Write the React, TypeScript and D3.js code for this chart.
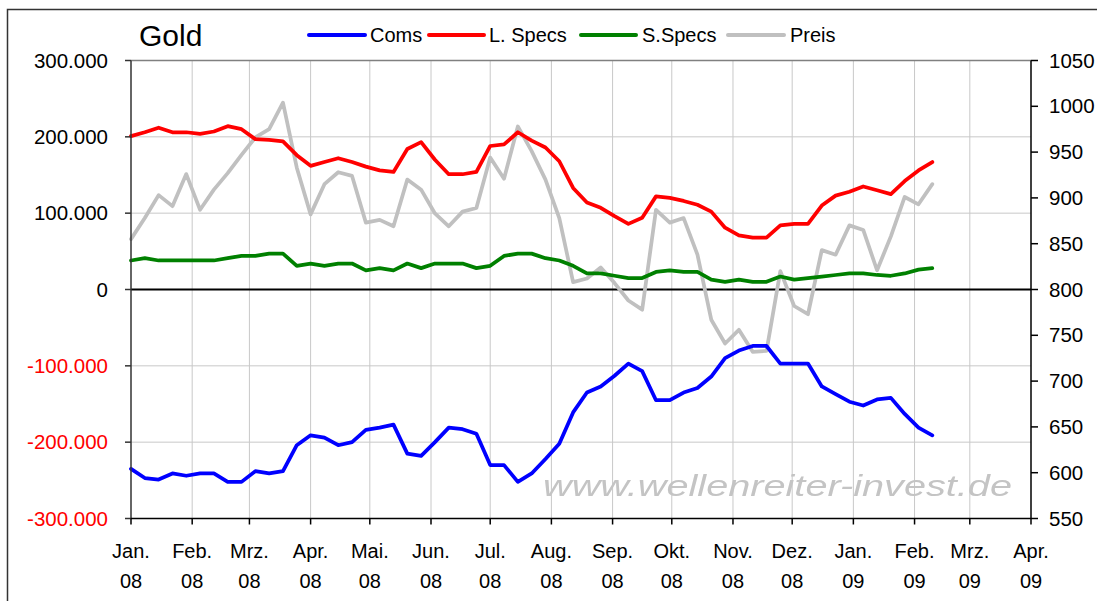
import React from "react";
import * as d3 from "d3";

const dates: string[] = [
  "2008-01-01","2008-01-08","2008-01-15","2008-01-22","2008-01-29",
  "2008-02-05","2008-02-12","2008-02-19","2008-02-26",
  "2008-03-04","2008-03-11","2008-03-18","2008-03-25",
  "2008-04-01","2008-04-08","2008-04-15","2008-04-22","2008-04-29",
  "2008-05-06","2008-05-13","2008-05-20","2008-05-27",
  "2008-06-03","2008-06-10","2008-06-17","2008-06-24",
  "2008-07-01","2008-07-08","2008-07-15","2008-07-22","2008-07-29",
  "2008-08-05","2008-08-12","2008-08-19","2008-08-26",
  "2008-09-02","2008-09-09","2008-09-16","2008-09-23","2008-09-30",
  "2008-10-07","2008-10-14","2008-10-21","2008-10-28",
  "2008-11-04","2008-11-11","2008-11-18","2008-11-25",
  "2008-12-02","2008-12-09","2008-12-16","2008-12-23","2008-12-30",
  "2009-01-06","2009-01-13","2009-01-20","2009-01-27",
  "2009-02-03","2009-02-10",
];

// Thousands of contracts
const coms: number[] = [
  -235,-247,-249,-241,-244,-241,-241,-252,-252,-238,-241,-238,-204,-191,-194,-204,-200,-184,-181,-177,
  -215,-218,-200,-181,-183,-189,-230,-230,-252,-241,-222,-202,-161,-135,-127,-113,-97,-107,-145,-145,
  -135,-129,-114,-90,-80,-74,-74,-97,-97,-97,-127,-137,-147,-152,-144,-142,-163,-181,-191,
];
const lSpecs: number[] = [
  201,206,212,206,206,204,207,214,210,197,196,194,176,162,167,172,167,161,156,154,
  184,193,170,151,151,154,188,190,206,195,186,168,133,114,107,96,86,94,122,120,
  116,111,102,81,71,68,68,84,86,86,110,123,128,135,130,125,142,156,167,
];
const sSpecs: number[] = [
  38,41,38,38,38,38,38,41,44,44,47,47,31,34,31,34,34,25,28,25,
  34,28,34,34,34,28,31,44,47,47,41,38,31,21,21,18,15,15,23,25,
  23,23,13,10,13,10,10,17,13,15,17,19,21,21,19,18,21,26,28,
];
const preis: number[] = [
  855,878,903,891,926,887,909,927,947,966,975,1004,933,882,915,928,924,873,876,869,
  920,909,883,869,885,889,944,921,978,951,920,878,808,812,824,807,788,778,887,873,
  878,838,767,741,756,732,733,820,782,773,843,838,870,865,821,858,901,893,915,
];

const monthLabels: string[] = [
  "Jan.","Feb.","Mrz.","Apr.","Mai.","Jun.","Jul.","Aug.","Sep.","Okt.","Nov.","Dez.",
  "Jan.","Feb.","Mrz.","Apr.",
];
const yearLabels: string[] = ["08","08","08","08","08","08","08","08","08","08","08","08","09","09","09","09"];
const leftTicks: number[] = [300000, 200000, 100000, 0, -100000, -200000, -300000];
const rightTicks: number[] = [1050, 1000, 950, 900, 850, 800, 750, 700, 650, 600, 550];

const seriesNames = ["Coms", "L. Specs", "S.Specs", "Preis"];
const seriesColors = ["#0000ff", "#ff0000", "#008000", "#c0c0c0"];

const FONT = "'Liberation Sans', Arial, sans-serif";

export default function App() {
  const parse = d3.timeParse("%Y-%m-%d");
  const dts = dates.map((s) => parse(s) as Date);
  const x0 = new Date(2008, 0, 1);
  const x1 = new Date(2009, 3, 1);
  const L = 131, R = 1031, T = 60.5, B = 518.5;
  const x = d3.scaleTime().domain([x0, x1]).range([L, R]);
  const yL = d3.scaleLinear().domain([-300000, 300000]).range([B, T]);
  const yR = d3.scaleLinear().domain([550, 1050]).range([B, T]);
  const months = d3.timeMonth.range(x0, d3.timeDay.offset(x1, 1));

  const loc = d3.formatLocale({ decimal: ",", thousands: ".", grouping: [3], currency: ["", "€"], minus: "-" });
  const fmt = loc.format(",d");

  const lineL = d3.line<number>().x((_, i) => x(dts[i])).y((v) => yL(v * 1000));
  const lineR = d3.line<number>().x((_, i) => x(dts[i])).y((v) => yR(v));

  const legendItems = [
    { x1: 309, x2: 365, tx: 370 },
    { x1: 429, x2: 484, tx: 489 },
    { x1: 581, x2: 636, tx: 642 },
    { x1: 728, x2: 784, tx: 790 },
  ];

  return (
    <svg width={1097} height={601} style={{ position: "absolute", left: 0, top: 0, background: "#fff" }} fontFamily={FONT}>
      <defs>
        <filter id="blur" x="-5%" y="-20%" width="110%" height="140%">
          <feGaussianBlur stdDeviation="0.7" />
        </filter>
      </defs>
      <rect x={0} y={0} width={1097} height={601} fill="#fff" />
      {/* outer border */}
      <rect x={7.5} y={9.5} width={1200} height={700} fill="none" stroke="#333" strokeWidth={1.5} />

      {/* gridlines */}
      {leftTicks.filter((t) => t !== 0 && t !== 300000 && t !== -300000).map((t) => (
        <line key={"h" + t} x1={L} x2={R} y1={yL(t)} y2={yL(t)} stroke="#c8c8c8" strokeWidth={1} />
      ))}
      {months.slice(1, -1).map((m, i) => (
        <line key={"v" + i} x1={x(m)} x2={x(m)} y1={T} y2={B} stroke="#c8c8c8" strokeWidth={1} />
      ))}
      {/* plot border top */}
      <line x1={L} x2={R} y1={T} y2={T} stroke="#808080" strokeWidth={1.5} />

      {/* watermark */}
      <text x={543} y={496} fontSize={30} fontStyle="italic" fill="#c4c4c4" textLength={469}
        lengthAdjust="spacingAndGlyphs" filter="url(#blur)">www.wellenreiter-invest.de</text>

      {/* zero line */}
      <line x1={L} x2={R} y1={yL(0)} y2={yL(0)} stroke="#000" strokeWidth={2} />

      {/* series */}
      <path d={lineR(preis) || ""} fill="none" stroke={seriesColors[3]} strokeWidth={3.75} strokeLinejoin="round" strokeLinecap="round" />
      <path d={lineL(sSpecs) || ""} fill="none" stroke={seriesColors[2]} strokeWidth={3.75} strokeLinejoin="round" strokeLinecap="round" />
      <path d={lineL(lSpecs) || ""} fill="none" stroke={seriesColors[1]} strokeWidth={3.75} strokeLinejoin="round" strokeLinecap="round" />
      <path d={lineL(coms) || ""} fill="none" stroke={seriesColors[0]} strokeWidth={3.75} strokeLinejoin="round" strokeLinecap="round" />

      {/* left axis */}
      <line x1={L} x2={L} y1={T} y2={B} stroke="#333" strokeWidth={1.5} />
      {leftTicks.map((t) => (
        <g key={"lt" + t}>
          <line x1={L - 6} x2={L} y1={yL(t)} y2={yL(t)} stroke="#333" strokeWidth={1.5} />
          <text x={108} y={yL(t)} dy="0.35em" textAnchor="end" fontSize={20.5} fill={t < 0 ? "#ff0000" : "#000"}>{fmt(t)}</text>
        </g>
      ))}
      {/* right axis */}
      <line x1={R} x2={R} y1={T} y2={B} stroke="#000" strokeWidth={1.5} />
      {rightTicks.map((t) => (
        <g key={"rt" + t}>
          <line x1={R} x2={R + 7} y1={yR(t)} y2={yR(t)} stroke="#000" strokeWidth={1.5} />
          <text x={1049} y={yR(t)} dy="0.35em" textAnchor="start" fontSize={20.5} fill="#000">{t}</text>
        </g>
      ))}
      {/* bottom axis */}
      <line x1={L} x2={R} y1={B} y2={B} stroke="#000" strokeWidth={1.5} />
      {months.map((m, i) => (
        <g key={"bt" + i}>
          <line x1={x(m)} x2={x(m)} y1={B} y2={B + 6} stroke="#000" strokeWidth={1.5} />
          <text x={x(m)} y={558} textAnchor="middle" fontSize={20}>{monthLabels[i]}</text>
          <text x={x(m)} y={588} textAnchor="middle" fontSize={20}>{yearLabels[i]}</text>
        </g>
      ))}

      {/* title */}
      <text x={139} y={46} fontSize={30}>Gold</text>

      {/* legend */}
      {legendItems.map((it, i) => (
        <g key={"lg" + i}>
          <line x1={it.x1} x2={it.x2} y1={35} y2={35} stroke={seriesColors[i]} strokeWidth={4} strokeLinecap="round" />
          <text x={it.tx} y={41.5} fontSize={20}>{seriesNames[i]}</text>
        </g>
      ))}
    </svg>
  );
}
